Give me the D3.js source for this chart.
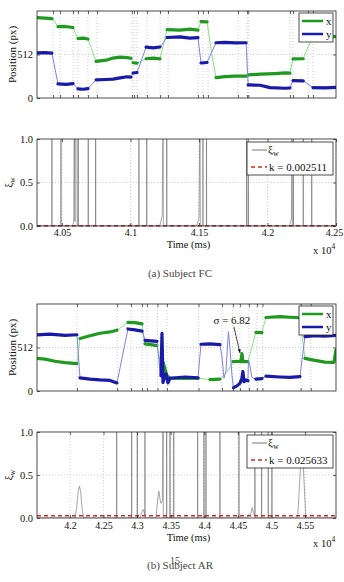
<!DOCTYPE html>
<html>
<head>
<meta charset="utf-8">
<script src="https://cdn.jsdelivr.net/npm/d3@7"></script>
<style>
  body { margin: 0; background: #fff; }
  svg { display: block; font-family: "Liberation Serif", "DejaVu Serif", serif; }
  svg text { font-family: "Liberation Serif", "DejaVu Serif", serif; }
</style>
</head>
<body>
<script>
// ---- Subject FC (time in ms, position in px) ----
const xTraceA = [[40318,945],[40376,940],[40427,935],[40435,928],[40471,840],[40522,842],[40581,830],[40617,700],[40654,705],[40690,695],[40749,432],[40822,445],[40873,470],[40924,482],[40975,475],[41004,468],[41019,415],[41048,410],[41114,462],[41165,470],[41216,460],[41267,805],[41361,800],[41434,810],[41493,798],[41515,900],[41559,895],[41595,500],[41624,240],[41690,252],[41763,258],[41844,258],[41859,272],[41947,280],[42055,288],[42128,295],[42164,292],[42186,460],[42261,462],[42296,600],[42332,715],[42420,725],[42500,722]];
const yTraceA = [[40318,532],[40376,535],[40427,528],[40471,167],[40530,160],[40581,170],[40617,108],[40654,103],[40690,110],[40749,214],[40822,218],[40873,222],[40924,236],[40975,250],[41004,245],[41019,294],[41048,300],[41114,598],[41165,590],[41216,600],[41267,712],[41361,720],[41434,705],[41493,710],[41515,412],[41559,418],[41624,650],[41690,655],[41763,648],[41844,650],[41859,155],[41947,150],[42018,122],[42128,115],[42164,118],[42186,205],[42261,202],[42332,123],[42420,120],[42500,125]];
const fixA = [[40318,40427],[40471,40581],[40617,40690],[40749,41004],[41019,41048],[41114,41216],[41267,41493],[41515,41559],[41624,41844],[41859,42164],[42186,42261],[42332,42500]];
const eventsA = [40435,40486,40581,40617,40690,40756,41011,41026,41048,41121,41216,41274,41493,41529,41566,41785,41851,41860,42164,42186,42296,42332];
const xiA = [[40318,0],[40426,0],[40427,1.5],[40428,0],[40492,0],[40493,1.5],[40494,0],
  [40578,0],[40586,0.05],[40590,1.5],[40595,0.05],[40600,1.5],[40610,1.5],[40611,0],
  [40618,0],[40619,1.5],[40620,0],[40691,0],[40692,1.5],[40693,0],[40745,0],[40746,1.5],[40747,0],
  [40990,0],[40997,0.02],[41004,0],[41061,0],[41062,1.5],[41063,0],[41118,0],[41119,1.5],[41120,0],
  [41214,0],[41232,0.12],[41238,1.5],[41240,0],[41264,0],[41265,1.5],[41266,0],
  [41484,0],[41500,0.1],[41508,1.5],[41510,0],[41528,0],[41529,1.5],[41530,0],[41554,0],[41555,1.5],[41556,0],
  [41847,0],[41848,1.5],[41849,0],[41859,0],[41860,1.5],[41861,0],
  [42160,0],[42175,0.08],[42179,1.5],[42181,0],[42188,0],[42189,1.5],[42190,0],
  [42260,0],[42261,1.5],[42262,0],[42322,0],[42323,1.5],[42324,0],[42500,0]];
const kA = 0.002511;
const ticksA = [40500, 41000, 41500, 42000, 42500];

// ---- Subject AR ----
const xTraceB = [[41510,385],[41629,375],[41778,350],[41927,335],[42105,322],[42150,617],[42299,650],[42447,680],[42596,695],[42700,715],[42864,808],[42968,805],[43073,790],[43117,555],[43206,545],[43296,535],[43325,400],[43355,300],[43385,340],[43415,260],[43444,180],[43489,150],[43712,148],[43906,150],[44084,135],[44233,140],[44307,200],[44367,260],[44426,345],[44501,350],[44545,345],[44560,440],[44575,345],[44649,345],[44768,690],[44858,688],[44917,865],[45126,875],[45274,868],[45423,862],[45498,384],[45646,360],[45795,340],[45929,338],[45959,480]];
const yTraceB = [[41510,660],[41703,670],[41927,655],[42105,662],[42150,155],[42299,140],[42447,130],[42596,125],[42700,95],[42864,730],[42968,720],[43073,705],[43117,595],[43206,590],[43296,585],[43333,300],[43355,180],[43370,680],[43385,100],[43415,190],[43430,200],[43459,95],[43489,150],[43712,165],[43906,155],[43950,550],[44084,555],[44233,545],[44263,400],[44293,150],[44322,230],[44359,700],[44382,500],[44412,180],[44434,40],[44486,60],[44530,90],[44560,150],[44575,230],[44590,110],[44620,130],[44649,120],[44657,360],[44679,300],[44709,160],[44768,140],[44858,145],[44917,175],[45126,165],[45274,160],[45423,170],[45498,640],[45646,650],[45795,645],[45959,655]];
const fixB = [[41510,42105],[42150,42700],[42864,43073],[43117,43296],[43340,43906],[43950,44233],[44426,44649],[44768,44858],[44917,45423],[45498,45959]];
const eventsB = [42105,42703,42909,43073,43147,43303,43444,43914,44263,44426,44530,44664,44783,44865,45435,45584];
const xiB = [[41510,0],[42076,0],[42100,0.12],[42125,0.33],[42142,0.37],[42160,0.3],[42185,0.08],[42209,0],
  [42695,0],[42696,1.5],[42697,0],[42918,0],[42919,1.5],[42920,0],[43002,0],[43003,1.5],[43004,0],
  [43045,0],[43065,0.06],[43090,0.1],[43105,0.07],[43115,0.03],[43117,1.5],[43119,0],
  [43281,0],[43311,0.25],[43325,0.31],[43340,0.22],[43355,0.17],[43375,0.2],[43388,1.5],[43390,0],
  [43439,0],[43440,1.5],[43441,0],[43488,0],[43489,1.5],[43490,0],[43540,0],[43541,1.5],[43548,1.5],[43549,0],
  [43900,0],[43901,1.5],[43902,0],[43994,0],[43995,1.5],[43996,0],[44024,0],[44025,1.5],[44026,0],
  [44232,0],[44233,1.5],[44234,0],[44515,0],[44516,1.5],[44517,0],
  [44634,0],[44660,0.04],[44680,0.02],[44700,0.08],[44714,0.12],[44730,0.06],[44750,0.03],[44754,1.5],[44756,0],
  [44852,0],[44853,1.5],[44854,0],[44951,0],[44952,1.5],[44953,0],[45006,0],[45007,1.5],[45008,0],
  [45390,0],[45453,0.9],[45512,0],[45959,0]];
const kB = 0.025633;
const ticksB = [42000, 42500, 43000, 43500, 44000, 44500, 45000, 45500];
const sigmaNote = {t: 44530, v: 450, label: "σ = 6.82"};

const W = 344, H = 582;
const L = 37, R = 336;
const FONT = "Liberation Serif, DejaVu Serif, serif";
const col = {
  x: {dark: "#1f9a1f", light: "#86e486"},
  y: {dark: "#1a1aa8", light: "#8080f0"}
};
const gridStyle = sel => sel.attr("stroke", "#b8b8b8").attr("stroke-width", 0.7).attr("stroke-dasharray", "1,2");

const svg = d3.select("body").append("svg").attr("width", W).attr("height", H)
  .attr("font-family", FONT);
const defs = svg.append("defs");
defs.append("marker").attr("id", "arrow").attr("viewBox", "0 0 10 10")
  .attr("refX", 9).attr("refY", 5).attr("markerWidth", 5).attr("markerHeight", 5)
  .attr("orient", "auto")
  .append("path").attr("d", "M0,1L10,5L0,9z").attr("fill", "#111");

let clipCount = 0;
function addClip(top, bottom) {
  const id = "clip" + (clipCount++);
  defs.append("clipPath").attr("id", id).append("rect")
    .attr("x", L).attr("y", top).attr("width", R - L).attr("height", bottom - top);
  return `url(#${id})`;
}

function styleAxis(g) {
  g.select(".domain").remove();
  g.attr("font-family", FONT).attr("font-size", 10.5);
  g.selectAll("line").attr("stroke", "#222").attr("stroke-width", 0.7);
  g.selectAll("text").attr("fill", "#111");
}

function box(top, bottom) {
  svg.append("rect").attr("x", L).attr("y", top).attr("width", R - L).attr("height", bottom - top)
    .attr("fill", "none").attr("stroke", "#222").attr("stroke-width", 0.8);
}

function drawPosition(o) {
  const x = d3.scaleLinear().domain(o.domain).range([L, R]);
  const y = d3.scaleLinear().domain([0, 1024]).range([o.bottom, o.top]);
  const g = svg.append("g");

  // dotted grid at the event times and at 512
  g.append("g").selectAll("line").data(o.events).join("line")
    .attr("x1", d => x(d)).attr("x2", d => x(d)).attr("y1", o.top).attr("y2", o.bottom)
    .call(gridStyle);
  g.append("line").attr("x1", L).attr("x2", R).attr("y1", y(512)).attr("y2", y(512)).call(gridStyle);

  const line = d3.line().x(d => x(d[0])).y(d => y(d[1]));
  const tr = g.append("g").attr("clip-path", addClip(o.top, o.bottom)).attr("fill", "none");
  [[o.xs, col.x], [o.ys, col.y]].forEach(([data, c]) => {
    tr.append("path").attr("d", line(data)).attr("stroke", c.light).attr("stroke-width", 1);
    o.fix.forEach(([s, e]) => {
      const seg = data.filter(d => d[0] >= s && d[0] <= e);
      tr.append("path").attr("d", line(seg)).attr("stroke", c.dark)
        .attr("stroke-width", 3.2).attr("stroke-linejoin", "round").attr("stroke-linecap", "round");
    });
  });

  g.append("g").attr("transform", `translate(0,${o.bottom})`)
    .call(d3.axisBottom(x).tickValues(o.events).tickFormat("").tickSizeInner(-3).tickSizeOuter(0)).call(styleAxis);
  g.append("g").attr("transform", `translate(0,${o.top})`)
    .call(d3.axisTop(x).tickValues(o.events).tickFormat("").tickSizeInner(-3).tickSizeOuter(0)).call(styleAxis);
  g.append("g").attr("transform", `translate(${L},0)`)
    .call(d3.axisLeft(y).tickValues([0, 512]).tickSizeInner(-3).tickSizeOuter(0).tickPadding(4)).call(styleAxis);
  g.append("g").attr("transform", `translate(${R},0)`)
    .call(d3.axisRight(y).tickValues([512]).tickFormat("").tickSizeInner(-3).tickSizeOuter(0)).call(styleAxis);
  box(o.top, o.bottom);

  svg.append("text").attr("transform", `translate(15.5,${(o.top + o.bottom) / 2}) rotate(-90)`)
    .attr("text-anchor", "middle").attr("font-size", 11).attr("fill", "#111").text("Position (px)");

  // legend
  const lg = svg.append("g").attr("transform", `translate(299,${o.top + 2})`);
  lg.append("rect").attr("width", 34).attr("height", 29).attr("fill", "#fff").attr("stroke", "#222").attr("stroke-width", 0.8);
  [["x", col.x.dark, 8], ["y", col.y.dark, 21]].forEach(([t, c, yy]) => {
    lg.append("line").attr("x1", 3).attr("x2", 24).attr("y1", yy).attr("y2", yy).attr("stroke", c).attr("stroke-width", 2.5);
    lg.append("text").attr("x", 27).attr("y", yy + 3.5).attr("font-size", 11).attr("fill", "#111").text(t);
  });

  if (o.note) {
    const px = x(o.note.t), py = y(o.note.v);
    svg.append("line").attr("x1", px - 6).attr("y1", py - 26).attr("x2", px).attr("y2", py)
      .attr("stroke", "#111").attr("stroke-width", 0.8).attr("marker-end", "url(#arrow)");
    svg.append("text").attr("x", px - 8).attr("y", py - 29).attr("text-anchor", "middle")
      .attr("font-size", 11).attr("fill", "#111").text(o.note.label);
  }
}

function drawXi(o) {
  const x = d3.scaleLinear().domain(o.domain).range([L, R]);
  const y = d3.scaleLinear().domain([0, 1]).range([o.bottom, o.top]);
  const g = svg.append("g");

  g.append("g").selectAll("line").data(o.ticks).join("line")
    .attr("x1", d => x(d)).attr("x2", d => x(d)).attr("y1", o.top).attr("y2", o.bottom)
    .call(gridStyle);
  g.append("line").attr("x1", L).attr("x2", R).attr("y1", y(0.5)).attr("y2", y(0.5)).call(gridStyle);

  const clip = addClip(o.top, o.bottom);
  const line = d3.line().x(d => x(d[0])).y(d => y(d[1]));
  g.append("path").attr("clip-path", clip).attr("d", line(o.xi))
    .attr("fill", "none").attr("stroke", "#6a6a6a").attr("stroke-width", 0.6);
  g.append("line").attr("x1", L).attr("x2", R).attr("y1", y(o.k)).attr("y2", y(o.k))
    .attr("stroke", "#d42a2a").attr("stroke-width", 1.6).attr("stroke-dasharray", "4,3");

  const bx = g.append("g").attr("transform", `translate(0,${o.bottom})`)
    .call(d3.axisBottom(x).tickValues(o.ticks).tickFormat(d => d / 1e4).tickSizeInner(-3).tickSizeOuter(0).tickPadding(o.pad))
    .call(styleAxis);
  bx.selectAll("text").attr("font-size", 10)
    .attr("dx", d => x(d) > R - 5 ? -2 : 0);
  g.append("g").attr("transform", `translate(0,${o.top})`)
    .call(d3.axisTop(x).tickValues(o.ticks).tickFormat("").tickSizeInner(-3).tickSizeOuter(0)).call(styleAxis);
  g.append("g").attr("transform", `translate(${L},0)`)
    .call(d3.axisLeft(y).tickValues([0, 0.5, 1]).tickSizeInner(-3).tickSizeOuter(0).tickPadding(4)).call(styleAxis);
  g.append("g").attr("transform", `translate(${R},0)`)
    .call(d3.axisRight(y).tickValues([0, 0.5, 1]).tickFormat("").tickSizeInner(-3).tickSizeOuter(0)).call(styleAxis);
  box(o.top, o.bottom);

  const yl = svg.append("text").attr("transform", `translate(12,${(o.top + o.bottom) / 2}) rotate(-90)`)
    .attr("text-anchor", "middle").attr("font-size", 11).attr("fill", "#111");
  yl.append("tspan").text("ξ");
  yl.append("tspan").attr("font-size", 8).attr("dy", 3).text("w");

  svg.append("text").attr("x", (L + R) / 2 + 2).attr("y", o.bottom + o.titleDy).attr("text-anchor", "middle")
    .attr("font-size", 10.5).attr("fill", "#111").text("Time (ms)");
  const ex = svg.append("text").attr("x", 313).attr("y", o.bottom + o.expDy).attr("font-size", 10.5).attr("fill", "#111");
  ex.append("tspan").text("x 10");
  ex.append("tspan").attr("font-size", 7.5).attr("dy", -5).text("4");

  // legend
  const lg = svg.append("g").attr("transform", `translate(247,${o.top + 3})`);
  lg.append("rect").attr("width", 86).attr("height", 33).attr("fill", "#fff").attr("stroke", "#222").attr("stroke-width", 0.8);
  lg.append("line").attr("x1", 5).attr("x2", 20).attr("y1", 8).attr("y2", 8).attr("stroke", "#555").attr("stroke-width", 0.8);
  const t1 = lg.append("text").attr("x", 21).attr("y", 11).attr("font-size", 11).attr("fill", "#111");
  t1.append("tspan").text("ξ");
  t1.append("tspan").attr("font-size", 8).attr("dy", 3).text("w");
  lg.append("line").attr("x1", 4).attr("x2", 20).attr("y1", 25).attr("y2", 25)
    .attr("stroke", "#d42a2a").attr("stroke-width", 1.6).attr("stroke-dasharray", "4,3");
  lg.append("text").attr("x", 22).attr("y", 29).attr("font-size", 11).attr("fill", "#111").text("k = " + o.k);
}

drawPosition({top: 11, bottom: 98, domain: [40318, 42500], xs: xTraceA, ys: yTraceA, fix: fixA, events: eventsA});
drawXi({top: 139, bottom: 226, domain: [40318, 42500], ticks: ticksA, xi: xiA, k: kA, pad: 3, titleDy: 22, expDy: 28});
svg.append("text").attr("x", 180).attr("y", 277).attr("text-anchor", "middle").attr("font-size", 11)
  .attr("fill", "#444").text("(a) Subject FC");

drawPosition({top: 304, bottom: 391, domain: [41510, 45960], xs: xTraceB, ys: yTraceB, fix: fixB, events: eventsB, note: sigmaNote});
drawXi({top: 432, bottom: 518, domain: [41510, 45960], ticks: ticksB, xi: xiB, k: kB, pad: 4, titleDy: 23, expDy: 29});
svg.append("text").attr("x", 180).attr("y", 569).attr("text-anchor", "middle").attr("font-size", 11)
  .attr("fill", "#444").text("(b) Subject AR");
svg.append("text").attr("x", 175).attr("y", 564).attr("text-anchor", "middle").attr("font-size", 10)
  .attr("fill", "#444").text("15");
</script>
</body>
</html>
